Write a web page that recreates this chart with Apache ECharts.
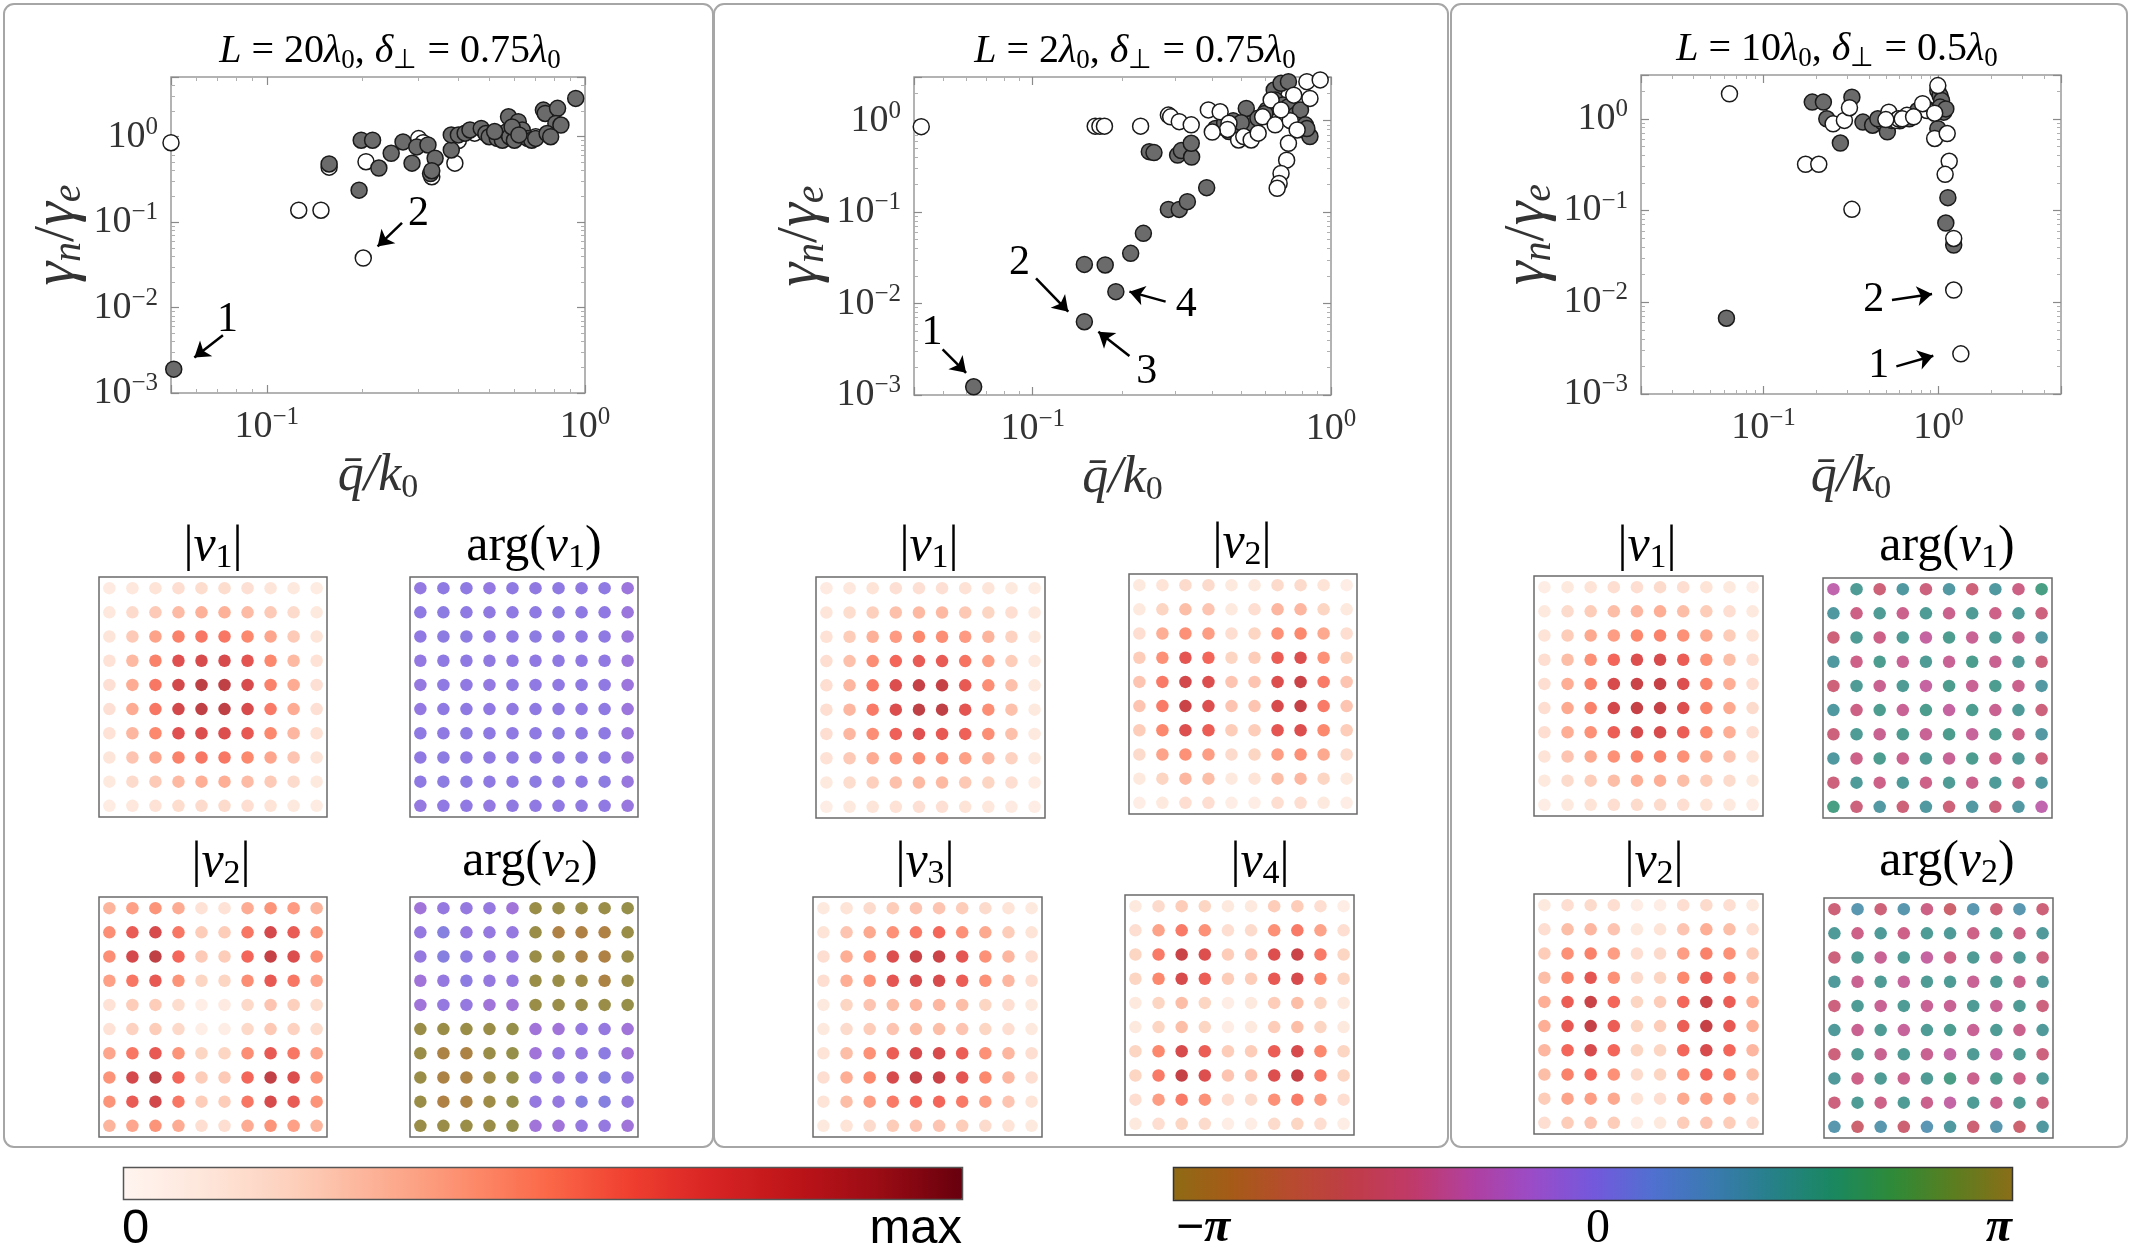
<!DOCTYPE html>
<html><head><meta charset="utf-8">
<script src="https://cdn.jsdelivr.net/npm/echarts@6.0.0/dist/echarts.min.js"></script>
<style>html,body{margin:0;padding:0;background:#fff}#c{width:2134px;height:1260px}</style>
</head><body><div id="c"></div>
<script>
// ---------------- scatter data : [q/k0, gamma_n/gamma_e] ----------------
const filled1 = [[0.051,0.0019],[0.157,0.48],[0.195,0.237],[0.198,0.91],[0.215,0.91],[0.225,0.43],[0.246,0.64],[0.268,0.87],[0.286,0.49],[0.296,0.76],[0.321,0.80],[0.338,0.56],[0.327,0.37],[0.33,0.40],[0.38,0.70],[0.38,1.05],[0.40,1.05],[0.42,1.1],[0.435,1.2],[0.472,1.25],[0.488,1.09],[0.50,1.0],[0.53,0.955],[0.55,0.91],[0.567,1.14],[0.575,1.71],[0.617,1.5],[0.58,1.0],[0.60,0.91],[0.635,1.2],[0.66,0.955],[0.68,0.91],[0.70,0.955],[0.74,2.05],[0.75,1.87],[0.82,2.15],[0.81,1.43],[0.84,1.37],[0.76,1.09],[0.935,2.81],[0.78,1.0],[0.59,1.3],[0.52,1.15],[0.62,1.05]];
const open1 = [[0.05,0.85],[0.126,0.138],[0.148,0.138],[0.201,0.038],[0.205,0.51],[0.157,0.44],[0.30,0.95],[0.39,0.49],[0.31,0.85],[0.33,0.34],[0.40,0.9],[0.45,1.1],[0.55,1.0],[0.70,1.0]];
const filled2 = [[0.0634,0.00123],[0.149,0.00633],[0.19,0.0135],[0.149,0.0268],[0.175,0.0264],[0.213,0.0354],[0.235,0.0586],[0.285,0.107],[0.31,0.107],[0.33,0.13],[0.383,0.185],[0.246,0.458],[0.255,0.447],[0.306,0.42],[0.315,0.47],[0.341,0.40],[0.34,0.565],[0.41,0.82],[0.44,0.935],[0.455,0.76],[0.49,0.86],[0.54,0.935],[0.52,1.36],[0.569,1.06],[0.61,1.31],[0.645,2.16],[0.68,2.56],[0.72,2.67],[0.65,1.68],[0.69,1.48],[0.72,1.42],[0.76,1.15],[0.79,1.31],[0.82,0.90],[0.83,0.76],[0.85,0.67],[0.83,0.82],[0.47,1.0],[0.50,0.95],[0.60,1.2]];
const open2 = [[0.0423,0.86],[0.162,0.87],[0.168,0.87],[0.174,0.87],[0.23,0.87],[0.285,1.15],[0.29,1.1],[0.31,0.975],[0.34,0.9],[0.388,1.31],[0.425,1.25],[0.455,0.935],[0.49,0.615],[0.51,0.67],[0.54,0.615],[0.57,0.73],[0.59,1.1],[0.65,0.9],[0.73,1.0],[0.77,0.79],[0.72,0.565],[0.71,0.37],[0.68,0.265],[0.67,0.206],[0.66,0.182],[0.83,2.67],[0.92,2.79],[0.85,1.75],[0.75,1.9],[0.63,1.68],[0.68,1.31],[0.45,0.8],[0.40,0.75]];
const filled3 = [[0.0615,0.0067],[0.19,1.52],[0.22,1.52],[0.32,1.72],[0.23,1.0],[0.275,0.544],[0.37,0.92],[0.42,0.85],[0.48,0.92],[0.51,0.72],[0.54,0.96],[0.68,1.0],[0.76,1.23],[0.86,1.28],[0.99,2.03],[1.02,1.79],[1.04,1.58],[1.02,1.34],[1.07,1.18],[1.10,1.28],[0.99,0.78],[1.13,0.138],[1.10,0.073],[1.22,0.042],[0.45,1.0],[0.6,0.95]];
const open3 = [[0.064,1.87],[0.174,0.319],[0.207,0.319],[0.32,0.103],[0.25,0.88],[0.29,0.96],[0.31,1.32],[0.52,1.18],[0.57,0.96],[0.59,1.0],[0.66,1.09],[0.86,1.23],[0.81,1.46],[0.99,2.3],[0.95,0.61],[1.12,0.69],[1.15,0.344],[1.09,0.248],[1.22,0.0496],[1.22,0.0136],[1.34,0.00274],[0.62,1.0],[0.72,1.05],[0.50,0.98],[0.95,1.15]];

// annotations: labels [text, x, y], arrows [x1, y1, x2, y2]
const labels1 = [['1',0.0753,0.0071],['2',0.30,0.126]];
const arrows1 = [[0.0728,0.00474,0.0592,0.0026],[0.266,0.098,0.223,0.052]];
const labels2 = [['1',0.046,0.00472],['2',0.0903,0.0275],['3',0.241,0.0018],['4',0.327,0.00964]];
const arrows2 = [[0.0499,0.00316,0.0598,0.00175],[0.1026,0.0189,0.1316,0.00815],[0.211,0.00267,0.166,0.00492],[0.279,0.0105,0.211,0.0135]];
const labels3 = [['2',0.426,0.0106],['1',0.456,0.002]];
const arrows3 = [[0.542,0.0106,0.918,0.0123],[0.574,0.002,0.933,0.00261]];

// ---------------- mode maps (10x10, rows top->bottom) ----------------
// amplitude in % of max
const ampA1 = [
[10,12,14,17,18,18,16,13,11,9],[12,19,26,32,36,36,32,26,19,11],[13,26,41,52,55,55,50,40,26,13],[15,33,52,70,74,74,68,50,33,15],[16,38,55,76,85,84,74,52,38,16],
[16,38,55,76,84,84,74,54,38,16],[15,34,50,70,72,72,66,50,34,15],[13,28,40,52,55,55,50,40,28,13],[11,19,26,33,37,37,32,26,19,11],[9,12,15,18,19,19,17,14,11,9]];
const ampA2 = [
[35,42,46,38,15,15,38,46,44,35],[48,65,74,55,25,25,55,75,65,46],[48,75,84,60,26,25,60,82,72,48],[42,55,66,46,22,22,48,66,55,40],[15,25,25,18,7,10,20,28,24,18],
[15,23,25,20,7,8,20,27,23,18],[40,55,66,46,22,22,48,66,55,40],[46,75,84,60,25,26,60,83,72,46],[46,65,76,55,25,25,55,74,65,46],[35,40,46,38,17,17,38,46,42,35]];
const argA1 = [
[-0.05,0.02,0.02,-0.05,0.02,-0.02,0.02,-0.02,0.02,-0.18],[0.02,0.05,0.02,-0.02,0.02,0.02,0.05,0.02,0.0,-0.15],[0.0,0.05,0.05,0.0,0.02,0.05,0.02,0.02,0.02,-0.15],[-0.05,0.02,0.02,-0.02,0.0,0.0,0.02,0.0,0.0,-0.18],[-0.08,0.02,0.0,-0.05,0.02,0.0,0.0,0.02,0.0,-0.18],
[-0.05,0.02,0.02,0.0,-0.02,0.02,0.02,0.0,0.02,-0.18],[0.02,0.02,0.05,0.02,0.0,0.02,0.05,0.02,0.02,-0.15],[0.0,0.05,0.02,0.02,0.02,0.0,0.02,0.05,0.02,-0.15],[0.02,0.05,0.05,0.02,0.02,0.05,0.02,0.02,0.05,-0.12],[-0.08,0.0,0.0,-0.05,-0.02,0.0,0.0,-0.02,0.0,-0.12]];
const argA2 = [
[-0.25,-0.08,-0.08,-0.08,-0.25,3.05,3.05,3.05,3.05,3.0],[-0.08,0.15,-0.08,-0.08,-0.08,3.05,-2.9,-2.9,-2.9,3.05],[-0.08,0.15,0.05,-0.08,-0.08,3.05,3.1,-2.95,-2.9,3.05],[-0.25,-0.08,0.05,-0.08,-0.08,3.05,3.05,3.1,-2.95,3.05],[-0.25,-0.08,-0.08,-0.25,-0.25,3.05,3.05,3.05,3.05,3.0],
[3.05,3.05,3.05,3.05,3.0,-0.25,-0.25,-0.08,-0.08,-0.25],[3.05,-2.95,-2.95,3.05,3.0,-0.25,-0.08,-0.08,0.05,-0.25],[3.05,-2.95,-2.95,3.1,3.0,-0.08,-0.08,0.05,0.15,-0.08],[3.05,-2.9,-2.95,3.1,3.0,-0.08,-0.08,0.15,0.15,-0.08],[3.05,3.05,3.05,3.05,3.0,-0.25,-0.25,-0.08,-0.08,-0.25]];
const ampB1 = [
[10,12,14,16,16,16,15,13,11,9],[13,18,24,30,33,33,27,22,17,11],[15,25,36,44,50,48,44,35,23,11],[17,30,48,60,65,65,56,42,25,11],[17,34,54,72,82,82,66,48,30,11],
[17,34,54,72,84,84,68,48,30,11],[17,34,48,62,70,66,62,48,30,11],[15,26,38,44,48,48,42,34,23,11],[11,18,24,30,33,33,27,22,17,9],[8,11,13,15,16,16,14,12,10,8]];
const ampB2 = [
[11,14,19,19,11,11,19,19,14,8],[11,22,31,28,11,17,34,34,22,11],[17,37,47,43,17,22,47,50,39,17],[25,47,67,60,22,25,64,71,47,22],[28,54,76,71,28,28,71,80,54,28],
[28,54,80,71,28,28,74,82,54,28],[25,50,71,64,25,25,67,71,50,25],[19,41,47,43,19,22,43,47,39,19],[11,22,34,31,11,14,31,34,22,11],[8,11,17,17,8,8,17,17,11,8]];
const ampB3 = [
[11,14,19,25,28,28,25,19,14,11],[14,28,39,47,54,60,47,39,25,14],[17,37,47,71,80,80,67,47,34,17],[17,37,47,67,74,74,64,47,34,17],[11,22,28,31,34,34,31,22,17,11],
[11,19,25,28,31,31,28,22,17,11],[14,31,47,64,74,74,64,47,34,17],[17,37,50,74,82,80,67,50,34,17],[14,31,43,54,60,60,54,43,28,14],[11,14,19,25,28,28,25,19,14,11]];
const ampB4 = [
[11,19,25,22,11,11,25,25,17,8],[17,41,54,47,17,19,47,54,41,17],[22,54,80,71,25,28,71,80,54,22],[22,50,74,64,25,25,66,74,50,22],[11,22,31,22,8,11,25,31,22,11],
[11,22,31,22,8,11,25,31,22,11],[22,50,74,64,25,25,64,74,50,22],[22,54,82,71,28,28,71,82,54,22],[17,43,54,47,17,19,47,54,43,17],[11,17,22,19,8,8,19,22,17,8]];
const ampC1 = [
[8,11,14,17,17,19,17,14,11,8],[11,19,25,31,34,37,31,25,17,11],[14,25,39,43,50,52,47,39,25,14],[17,31,47,60,71,74,64,47,31,17],[17,37,52,74,80,82,71,52,37,17],
[17,39,52,76,82,82,71,52,39,19],[17,37,47,64,74,74,64,50,37,17],[14,28,39,47,52,52,47,39,28,14],[11,19,25,31,37,37,31,25,19,11],[8,11,14,17,19,19,17,14,11,8]];
const ampC2 = [
[11,17,19,17,8,8,17,19,17,11],[17,31,34,28,11,14,28,37,31,17],[25,47,52,43,17,19,43,52,47,25],[31,52,67,47,19,22,50,66,52,31],[37,64,80,60,22,25,60,80,64,37],
[37,66,82,64,22,25,64,82,66,37],[34,60,74,60,22,22,60,74,60,34],[31,52,60,47,19,22,47,60,52,31],[25,41,43,39,14,17,39,43,41,25],[17,25,28,25,8,11,25,28,25,17]];
const argC1 = [
[-0.95,1.5,-1.6,1.35,-1.5,1.3,-1.6,1.35,-1.4,1.75],[1.35,-1.4,1.5,-1.3,1.5,-1.3,1.5,-1.35,1.45,-1.5],[-1.6,1.5,-1.35,1.5,-1.1,1.55,-1.2,1.5,-1.3,1.3],[1.35,-1.35,1.55,-1.2,1.5,-1.2,1.6,-1.25,1.45,-1.55],[-1.6,1.5,-1.25,1.5,-1.1,1.6,-1.2,1.55,-1.3,1.3],
[1.35,-1.4,1.55,-1.2,1.6,-1.1,1.55,-1.25,1.45,-1.55],[-1.55,1.5,-1.25,1.55,-1.2,1.6,-1.15,1.55,-1.35,1.3],[1.35,-1.35,1.55,-1.3,1.5,-1.2,1.55,-1.35,1.45,-1.55],[-1.55,1.45,-1.35,1.45,-1.35,1.5,-1.3,1.45,-1.4,1.35],[1.75,-1.55,1.3,-1.6,1.35,-1.6,1.3,-1.55,1.3,-0.95]];
const argC2 = [
[-1.6,1.1,-1.6,1.15,-1.4,-1.8,1.1,-1.6,1.1,-1.6],[1.45,-1.35,1.45,-1.35,1.5,1.45,-1.35,1.5,-1.4,1.4],[-1.55,1.5,-1.2,1.5,-1.1,-1.4,1.5,-1.3,1.45,-1.5],[1.4,-1.25,1.5,-1.15,1.5,1.5,-1.2,1.5,-1.3,1.4],[-1.5,1.5,-1.2,1.5,-1.2,-1.2,1.5,-1.2,1.5,-1.5],
[1.4,-1.25,1.5,-1.15,1.5,1.55,-1.2,1.5,-1.3,1.4],[-1.55,1.5,-1.25,1.5,-1.25,-1.05,1.5,-1.1,1.5,-1.5],[1.4,-1.35,1.5,-1.3,1.5,1.7,-1.3,1.55,-1.35,1.45],[-1.5,1.5,-1.35,1.5,-1.3,-1.05,1.5,-1.3,1.5,-1.5],[1.15,-1.75,1.15,-1.7,1.05,1.35,-1.65,1.15,-1.75,1.35]];

// ---------------- colour scales ----------------
const REDS = ['#fff5f0','#fee5d9','#fdd0bc','#fcb196','#fc9070','#fb6a4a','#f04030','#d82424','#bd1419','#9a0c14','#67000d'];
const PHASE = ['#8f6a14','#a65a18','#b84a30','#c03c48','#c03a6a','#b040a0','#9a4cc8','#7458dc','#5070d0','#3a7ab0','#268088','#1a8860','#2e8a38','#5a7e20','#8a6e18'];

const SERIF = 'Liberation Serif';

const scatterCfg = [
  {grid:{left:171,top:77,width:414,height:316}, xr:[0.05,1], yr:[0.001,5], filled:filled1, open:open1, labels:labels1, arrows:arrows1, openTop:false,
   title:'{i|L} = 20{i|λ}{sb|0}, {i|δ}{sb|⊥} = 0.75{i|λ}{sb|0}', tx:390, ty:51},
  {grid:{left:914,top:77,width:417,height:318}, xr:[0.04,1], yr:[0.001,3], filled:filled2, open:open2, labels:labels2, arrows:arrows2, openTop:true,
   title:'{i|L} = 2{i|λ}{sb|0}, {i|δ}{sb|⊥} = 0.75{i|λ}{sb|0}', tx:1135, ty:51},
  {grid:{left:1641,top:75,width:420,height:319}, xr:[0.02,5], yr:[0.001,3], filled:filled3, open:open3, labels:labels3, arrows:arrows3, openTop:true,
   title:'{i|L} = 10{i|λ}{sb|0}, {i|δ}{sb|⊥} = 0.5{i|λ}{sb|0}', tx:1837, ty:49}
];

const dotCfg = [
  {box:[99,577,228,240], m:ampA1, kind:'amp', t:'|{i|v}{sb|1}|', tp:[213,547]},
  {box:[410,577,228,240], m:argA1, kind:'arg', t:'arg({i|v}{sb|1})', tp:[534,547]},
  {box:[99,897,228,240], m:ampA2, kind:'amp', t:'|{i|v}{sb|2}|', tp:[221,863]},
  {box:[410,897,228,240], m:argA2, kind:'arg', t:'arg({i|v}{sb|2})', tp:[530,862]},
  {box:[816,577,229,241], m:ampB1, kind:'amp', t:'|{i|v}{sb|1}|', tp:[929,547]},
  {box:[1129,574,228,240], m:ampB2, kind:'amp', t:'|{i|v}{sb|2}|', tp:[1242,544]},
  {box:[813,897,229,240], m:ampB3, kind:'amp', t:'|{i|v}{sb|3}|', tp:[925,863]},
  {box:[1125,895,229,240], m:ampB4, kind:'amp', t:'|{i|v}{sb|4}|', tp:[1260,863]},
  {box:[1534,576,229,240], m:ampC1, kind:'amp', t:'|{i|v}{sb|1}|', tp:[1647,547]},
  {box:[1823,578,229,240], m:argC1, kind:'arg', t:'arg({i|v}{sb|1})', tp:[1947,547]},
  {box:[1534,894,229,240], m:ampC2, kind:'amp', t:'|{i|v}{sb|2}|', tp:[1654,863]},
  {box:[1824,898,229,240], m:argC2, kind:'arg', t:'arg({i|v}{sb|2})', tp:[1947,862]}
];

function powLabel(v){
  const e = Math.log10(v), r = Math.round(e);
  if (Math.abs(e - r) > 1e-6) return '';
  return '{b|10}{s|' + (r < 0 ? '\u2212' + (-r) : r) + '}';
}
function minorTicks(lo, hi){
  const out = [];
  for (let e = Math.floor(Math.log10(lo)); e <= Math.ceil(Math.log10(hi)); e++)
    for (let k = 2; k <= 9; k++) { const v = k * Math.pow(10, e); if (v > lo * 1.0001 && v < hi * 0.9999) out.push(v); }
  return out;
}
const AX_RICH = {
  b:{fontFamily:SERIF, fontSize:38, lineHeight:44, color:'#333'},
  s:{fontFamily:SERIF, fontSize:25, lineHeight:25, verticalAlign:'top', color:'#333'}
};
const XNAME_RICH = {
  i:{fontFamily:SERIF, fontStyle:'italic', fontSize:52, lineHeight:58, color:'#333'},
  sbu:{fontFamily:SERIF, fontSize:34, lineHeight:34, verticalAlign:'bottom', color:'#333'}
};
const YNAME_RICH = {
  i:{fontFamily:SERIF, fontStyle:'italic', fontSize:60, lineHeight:64, color:'#333'},
  u:{fontFamily:SERIF, fontSize:58, lineHeight:64, color:'#333'},
  sb:{fontFamily:SERIF, fontStyle:'italic', fontSize:40, lineHeight:40, verticalAlign:'bottom', color:'#333'}
};
const tickStyle = {show:true, inside:true, length:8, lineStyle:{color:'#8a8a8a', width:1.2}};

const grids = [], xAxes = [], yAxes = [], series = [], graphics = [];
const ampIdx = [], argIdx = [];

scatterCfg.forEach(c => {
  const g = grids.length;
  grids.push(Object.assign({show:true, borderColor:'#9a9a9a', borderWidth:1.5, backgroundColor:'#fff'}, c.grid));
  const xb = xAxes.length;
  xAxes.push({type:'log', logBase:10, gridIndex:g, min:c.xr[0], max:c.xr[1], position:'bottom',
    axisLine:{show:false}, axisTick:tickStyle, splitLine:{show:false},
    axisLabel:{formatter:powLabel, rich:AX_RICH, margin:12},
    name:'{i|q\u0304/k}{sbu|0}', nameLocation:'middle', nameGap:54, nameTextStyle:{rich:XNAME_RICH}});
  xAxes.push({type:'log', logBase:10, gridIndex:g, min:c.xr[0], max:c.xr[1], position:'top',
    axisLine:{show:false}, axisTick:tickStyle, splitLine:{show:false}, axisLabel:{show:false}});
  const yb = yAxes.length;
  yAxes.push({type:'log', logBase:10, gridIndex:g, min:c.yr[0], max:c.yr[1], position:'left',
    axisLine:{show:false}, axisTick:tickStyle, splitLine:{show:false},
    axisLabel:{formatter:powLabel, rich:AX_RICH, margin:13},
    name:'{i|γ}{sb|n}{u|/}{i|γ}{sb|e}', nameLocation:'middle', nameGap:76, nameRotate:90, nameTextStyle:{rich:YNAME_RICH}});
  yAxes.push({type:'log', logBase:10, gridIndex:g, min:c.yr[0], max:c.yr[1], position:'right',
    axisLine:{show:false}, axisTick:tickStyle, splitLine:{show:false}, axisLabel:{show:false}});
  // minor ticks on all four sides
  const mx = minorTicks(c.xr[0], c.xr[1]), my = minorTicks(c.yr[0], c.yr[1]);
  const minorStyle = v => ({show:true, inside:true, length:4, customValues:v, lineStyle:{color:'#b0b0b0', width:1}});
  ['bottom','top'].forEach(p => xAxes.push({type:'log', logBase:10, gridIndex:g, min:c.xr[0], max:c.xr[1], position:p,
    axisLine:{show:false}, axisTick:minorStyle(mx), splitLine:{show:false}, axisLabel:{show:false}}));
  ['left','right'].forEach(p => yAxes.push({type:'log', logBase:10, gridIndex:g, min:c.yr[0], max:c.yr[1], position:p,
    axisLine:{show:false}, axisTick:minorStyle(my), splitLine:{show:false}, axisLabel:{show:false}}));

  const filledS = {type:'scatter', xAxisIndex:xb, yAxisIndex:yb, data:c.filled, symbolSize:16, clip:false,
    itemStyle:{color:'#6b6b6b', borderColor:'#1a1a1a', borderWidth:1.5, opacity:1}};
  const openS = {type:'scatter', xAxisIndex:xb, yAxisIndex:yb, data:c.open, symbolSize:16, clip:false,
    itemStyle:{color:'#ffffff', borderColor:'#1a1a1a', borderWidth:1.5, opacity:1}};
  const annS = {type:'scatter', xAxisIndex:xb, yAxisIndex:yb, data:[], silent:true,
    markLine:{silent:true, symbol:['none','arrow'], symbolSize:15, animation:false,
      lineStyle:{color:'#000', width:2.5, type:'solid'}, label:{show:false},
      data:c.arrows.map(a => [{coord:[a[0],a[1]]},{coord:[a[2],a[3]]}])},
    markPoint:{silent:true, symbol:'circle', symbolSize:1, itemStyle:{color:'rgba(0,0,0,0)'}, animation:false,
      label:{show:true, position:'inside', formatter:p => p.name, fontFamily:SERIF, fontSize:42, color:'#000'},
      data:c.labels.map(l => ({name:l[0], coord:[l[1], l[2]]}))}};
  if (c.openTop) series.push(filledS, openS); else series.push(openS, filledS);
  series.push(annS);

  graphics.push({type:'text', x:c.tx, y:c.ty, style:{text:c.title, font:'40px "Liberation Serif"', fill:'#000',
    align:'center', verticalAlign:'middle', textAlign:'center', textVerticalAlign:'middle',
    rich:{i:{fontFamily:SERIF, fontStyle:'italic', fontSize:40, lineHeight:46},
          sb:{fontFamily:SERIF, fontSize:27, lineHeight:27, verticalAlign:'bottom'}}}});
});

dotCfg.forEach(d => {
  const g = grids.length;
  grids.push({left:d.box[0], top:d.box[1], width:d.box[2], height:d.box[3], show:true, borderColor:'#6a6a6a', borderWidth:1.5, backgroundColor:'#fff'});
  const xi = xAxes.length, yi = yAxes.length;
  xAxes.push({type:'value', gridIndex:g, min:-0.45, max:9.45, show:false});
  yAxes.push({type:'value', gridIndex:g, min:-0.46, max:9.46, inverse:true, show:false});
  const data = [];
  d.m.forEach((row, r) => row.forEach((v, col) => data.push([col, r, v])));
  (d.kind === 'amp' ? ampIdx : argIdx).push(series.length);
  series.push({type:'scatter', xAxisIndex:xi, yAxisIndex:yi, data, symbolSize:12.5, silent:true});
  graphics.push({type:'text', x:d.tp[0], y:d.tp[1], style:{text:d.t, font:'50px "Liberation Serif"', fill:'#000',
    align:'center', verticalAlign:'middle', textAlign:'center', textVerticalAlign:'middle',
    rich:{i:{fontFamily:SERIF, fontStyle:'italic', fontSize:50, lineHeight:56},
          sb:{fontFamily:SERIF, fontSize:34, lineHeight:34, verticalAlign:'bottom'}}}});
});

// panel frames
[[4,4,709,1143],[714,4,734,1143],[1451,4,676,1143]].forEach(b => graphics.push({type:'rect', z:-10,
  shape:{x:b[0], y:b[1], width:b[2], height:b[3], r:10}, style:{fill:'none', stroke:'#a6a6a6', lineWidth:2}}));
// colorbar frames
graphics.push({type:'rect', z:100, shape:{x:123.5, y:1167.5, width:839, height:32}, style:{fill:'none', stroke:'#555', lineWidth:1.5}});
graphics.push({type:'rect', z:100, shape:{x:1173.5, y:1167.5, width:839, height:33}, style:{fill:'none', stroke:'#333', lineWidth:1.5}});
// colorbar labels
const cbText = (x, y, text, align, font, rich) => ({type:'text', x, y, style:{text, font, fill:'#000',
  align, verticalAlign:'middle', textAlign:align, textVerticalAlign:'middle', rich}});
const PI_RICH = {p:{fontFamily:SERIF, fontStyle:'italic', fontWeight:'bold', fontSize:48}};
graphics.push(cbText(122, 1229, '0', 'left', '49px "Liberation Sans"'));
graphics.push(cbText(962, 1229, 'max', 'right', '49px "Liberation Sans"'));
graphics.push(cbText(1176, 1229, '\u2212{p|π}', 'left', '48px "Liberation Sans"', PI_RICH));
graphics.push(cbText(1598, 1229, '0', 'center', '48px "Liberation Serif"'));
graphics.push(cbText(2012, 1229, '{p|π}', 'right', '48px "Liberation Serif"', PI_RICH));

const option = {
  animation:false,
  backgroundColor:'#fff',
  grid:grids, xAxis:xAxes, yAxis:yAxes, series,
  visualMap:[
    {type:'continuous', seriesIndex:ampIdx, dimension:2, min:0, max:100, inRange:{color:REDS},
     orient:'horizontal', left:123.5, top:1167.5, itemWidth:32, itemHeight:839, calculable:false, padding:0, text:null, hoverLink:false},
    {type:'continuous', seriesIndex:argIdx, dimension:2, min:-Math.PI, max:Math.PI, inRange:{color:PHASE},
     orient:'horizontal', left:1173.5, top:1167.5, itemWidth:33, itemHeight:839, calculable:false, padding:0, text:null, hoverLink:false}
  ],
  graphic:{elements:graphics}
};
const chart = echarts.init(document.getElementById('c'));
chart.setOption(option);
</script></body></html>
